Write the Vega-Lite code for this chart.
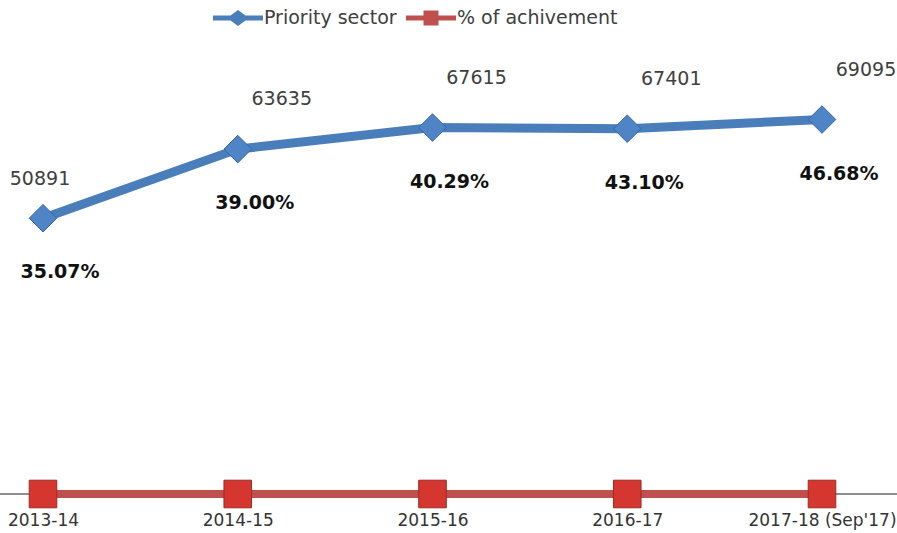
{
  "$schema": "https://vega.github.io/schema/vega-lite/v6.json",
  "autosize": "none",
  "padding": 0,
  "width": 897,
  "height": 533,
  "background": "white",
  "config": {"view": {"stroke": null}, "font": "DejaVu Sans"},
  "data": {"values": [
    {"period": "2013-14", "priority": 50891, "achievement": 0.3507},
    {"period": "2014-15", "priority": 63635, "achievement": 0.39},
    {"period": "2015-16", "priority": 67615, "achievement": 0.4029},
    {"period": "2016-17", "priority": 67401, "achievement": 0.431},
    {"period": "2017-18 (Sep'17)", "priority": 69095, "achievement": 0.4668}
  ]},
  "encoding": {
    "x": {"field": "period", "type": "ordinal", "sort": null,
      "scale": {"type": "point", "range": [43, 822], "padding": 0},
      "axis": {"title": null, "labelAngle": 0, "ticks": false, "domain": false, "grid": false, "offset": -39,
        "labelFontSize": 17, "labelColor": "#333333", "labelPadding": 18, "labelFont": "DejaVu Sans"}}
  },
  "layer": [
    {"mark": {"type": "rule", "color": "#8c8c8c", "strokeWidth": 1},
     "encoding": {"x": null, "y": {"datum": 0, "type": "quantitative", "scale": {"domain": [0, 91150], "range": [494, 0], "nice": false, "zero": true}, "axis": null}}},
    {"mark": {"type": "line", "color": "#c0504d", "strokeWidth": 8},
     "encoding": {"y": {"field": "achievement", "type": "quantitative", "scale": {"domain": [0, 91150], "range": [494, 0], "nice": false}, "axis": null}}},
    {"mark": {"type": "point", "shape": "square", "size": 760, "filled": true, "fill": "#d5362f", "stroke": "#9e2a25", "strokeWidth": 1, "opacity": 1},
     "encoding": {"y": {"field": "achievement", "type": "quantitative"}}},
    {"mark": {"type": "line", "color": "#4a7ebb", "strokeWidth": 9},
     "encoding": {"y": {"field": "priority", "type": "quantitative"}}},
    {"mark": {"type": "point", "shape": "diamond", "size": 760, "filled": true, "fill": "#4f85c6", "stroke": "#3567a3", "strokeWidth": 1, "opacity": 1},
     "encoding": {"y": {"field": "priority", "type": "quantitative"}}},
    {"transform": [{"filter": "datum.period != '2013-14'"}],
     "mark": {"type": "text", "fontSize": 19, "color": "#404040", "dx": 44, "dy": -50, "align": "center", "baseline": "middle"},
     "encoding": {"y": {"field": "priority", "type": "quantitative"}, "text": {"field": "priority", "type": "quantitative", "format": "d"}}},
    {"transform": [{"filter": "datum.period == '2013-14'"}],
     "mark": {"type": "text", "fontSize": 19, "color": "#404040", "dx": -3, "dy": -39, "align": "center", "baseline": "middle"},
     "encoding": {"y": {"field": "priority", "type": "quantitative"}, "text": {"field": "priority", "type": "quantitative", "format": "d"}}},
    {"mark": {"type": "text", "fontSize": 19, "fontWeight": "bold", "color": "#111111", "dx": 17, "dy": 54, "align": "center", "baseline": "middle"},
     "encoding": {"y": {"field": "priority", "type": "quantitative"}, "text": {"field": "achievement", "type": "quantitative", "format": ".2%"}}},
    {"data": {"values": [{"series": "Priority sector"}, {"series": "% of achivement"}]},
     "mark": {"type": "point", "filled": true, "opacity": 0},
     "encoding": {
       "x": null,
       "color": {"field": "series", "type": "nominal",
         "scale": {"domain": ["Priority sector", "% of achivement"], "range": ["#4a7ebb", "#c0504d"]},
         "legend": {"title": null, "orient": "none", "legendX": 213, "legendY": -7, "direction": "horizontal",
           "symbolSize": 2500, "symbolOpacity": 1, "symbolStrokeWidth": 0, "labelFontSize": 19, "labelColor": "#404040",
           "labelOffset": 1, "columnPadding": 9, "labelLimit": 400, "labelFont": "DejaVu Sans"}},
       "shape": {"field": "series", "type": "nominal",
         "scale": {"domain": ["Priority sector", "% of achivement"],
           "range": ["M-1,-0.1H-0.3L0,-0.32L0.3,-0.1H1V0.1H0.3L0,0.32L-0.3,0.1H-1Z", "M-1,-0.1H-0.3V-0.3H0.3V-0.1H1V0.1H0.3V0.3H-0.3V0.1H-1Z"]},
         "legend": {"title": null, "orient": "none", "legendX": 213, "legendY": -7, "direction": "horizontal",
           "symbolSize": 2500, "symbolOpacity": 1, "symbolStrokeWidth": 0, "labelFontSize": 19, "labelColor": "#404040",
           "labelOffset": 1, "columnPadding": 9, "labelLimit": 400, "labelFont": "DejaVu Sans"}}
     }}
  ]
}
